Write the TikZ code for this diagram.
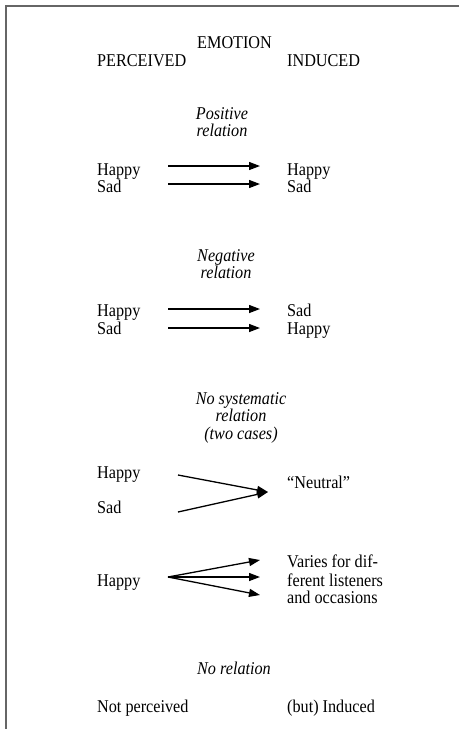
\documentclass[tikz,border=0pt]{standalone}
\usepackage{fontspec}
\setmainfont[FakeStretch=0.9]{Liberation Serif}
\usetikzlibrary{arrows.meta}

\tikzset{
    txt/.style={anchor=base west, inner sep=0pt, font=\fontsize{18}{18}\selectfont},
    lbl/.style={anchor=north, inner sep=0pt, align=center, font=\fontsize{18}{17.5}\selectfont\itshape},
    arr/.style={-{Triangle[length=11pt,width=8pt]}, line width=1.3pt},
}

\begin{document}
\begin{tikzpicture}[x=1pt,y=-1pt]
    \useasboundingbox (0,0) rectangle (459,729);
    \draw[line width=2pt, black!60] (459,5.5) -- (5.5,5.5) -- (5.5,729);
    % heading
    \node[txt] (emotion) at (197,48) {EMOTION};
    \node[txt] (perceived) at (97,66) {PERCEIVED};
    \node[txt] (induced) at (287,66) {INDUCED};
    % positive relation
    \node[lbl] (pos) at (222,107) {Positive\\relation};
    \node[txt] (posHappyL) at (97,175) {Happy};
    \node[txt] (posSadL) at (97,192) {Sad};
    \node[txt] (posHappyR) at (287,175) {Happy};
    \node[txt] (posSadR) at (287,192) {Sad};
    \coordinate (posA1) at (168,166);
    \coordinate (posB1) at (260,166);
    \coordinate (posA2) at (168,184);
    \coordinate (posB2) at (260,184);
    \draw[arr] (posA1) -- (posB1);
    \draw[arr] (posA2) -- (posB2);
    % negative relation
    \node[lbl] (neg) at (226,249) {Negative\\relation};
    \node[txt] (negHappyL) at (97,316) {Happy};
    \node[txt] (negSadL) at (97,334) {Sad};
    \node[txt] (negSadR) at (287,316) {Sad};
    \node[txt] (negHappyR) at (287,334) {Happy};
    \coordinate (negA1) at (168,309);
    \coordinate (negB1) at (260,309);
    \coordinate (negA2) at (168,328);
    \coordinate (negB2) at (260,328);
    \draw[arr] (negA1) -- (negB1);
    \draw[arr] (negA2) -- (negB2);
    % no systematic relation
    \node[lbl] (sys) at (241,392) {No systematic\\relation\\(two cases)};
    \node[txt] (neuHappy) at (97,478) {Happy};
    \node[txt] (neuSad) at (97,513) {Sad};
    \node[txt] (neutral) at (287,488) {``Neutral"};
    \coordinate (neuA1) at (178,475);
    \coordinate (neuA2) at (178,512);
    \coordinate (neuB) at (268,492);
    \draw[arr] (neuA1) -- (neuB);
    \draw[arr] (neuA2) -- (neuB);
    \node[txt] (varHappy) at (97,586) {Happy};
    \node[txt] (var1) at (287,567) {Varies for dif-};
    \node[txt] (var2) at (287,586) {ferent listeners};
    \node[txt] (var3) at (287,603) {and occasions};
    \coordinate (varA) at (168,577);
    \coordinate (varB1) at (260,560);
    \coordinate (varB2) at (260,577);
    \coordinate (varB3) at (260,595);
    \draw[arr] (varA) -- (varB1);
    \draw[arr] (varA) -- (varB2);
    \draw[arr] (varA) -- (varB3);
    % no relation
    \node[lbl] (norel) at (234,662) {No relation};
    \node[txt] (notperc) at (97,712) {Not perceived};
    \node[txt] (butind) at (287,712) {(but) Induced};
\end{tikzpicture}
\end{document}
